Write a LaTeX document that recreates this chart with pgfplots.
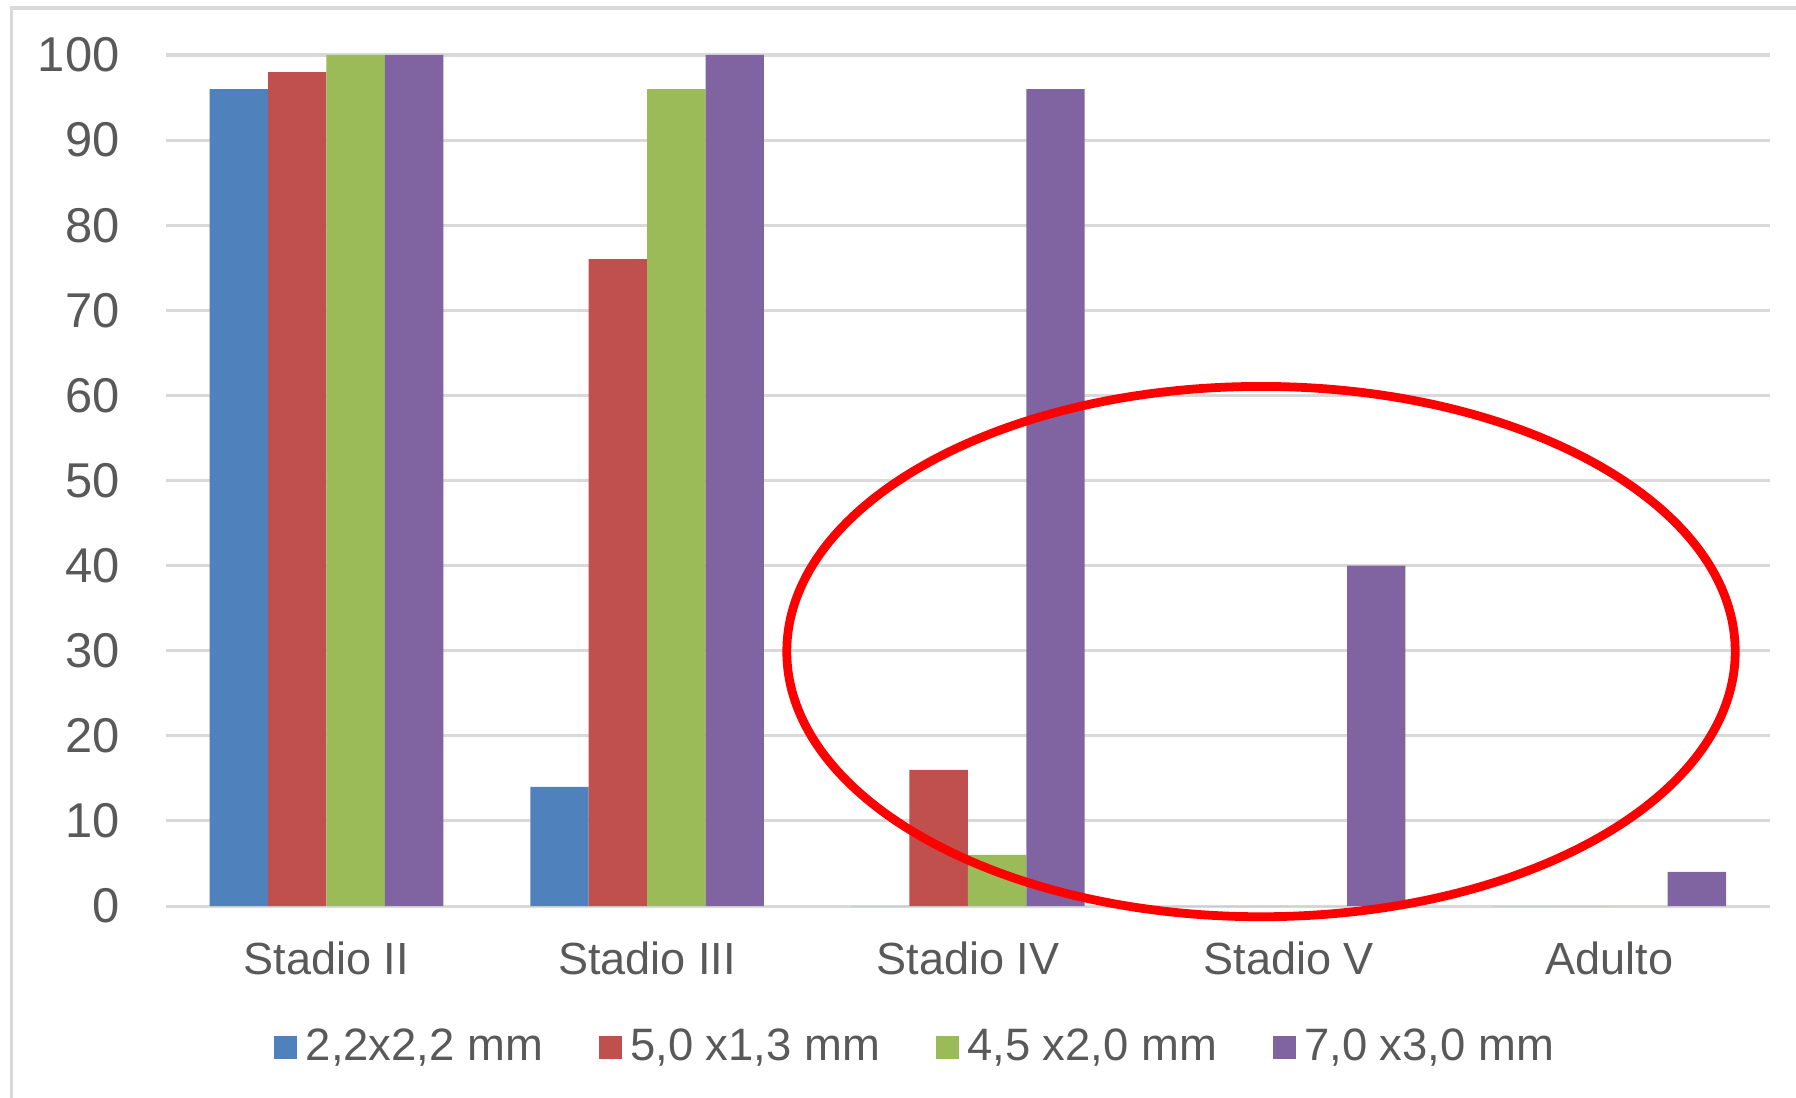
\documentclass[border=0pt]{standalone}
\usepackage{fontspec}
\setmainfont{Liberation Sans}
\usepackage{pgfplots}
\pgfplotsset{compat=1.18}
\definecolor{c1}{HTML}{4F81BD}
\definecolor{c2}{HTML}{C0504D}
\definecolor{c3}{HTML}{9BBB59}
\definecolor{c4}{HTML}{8064A2}
\definecolor{gridgray}{HTML}{D9D9D9}
\definecolor{labelgray}{HTML}{595959}
\begin{document}
\begin{tikzpicture}
\path[use as bounding box] (-43.5pt,-50.1pt) rectangle (426.9pt,237.3pt);
\draw[color=gridgray, line width=0.8pt] (-40.5pt,-60pt) -- (-40.5pt,235.2pt) -- (440pt,235.2pt);
\begin{axis}[
  at={(0pt,0pt)}, anchor=south west,
  scale only axis, width=420pt, height=222.9pt,
  xmin=-0.5, xmax=4.5, ymin=0, ymax=100,
  ybar=0pt, bar width=15.3pt,
  xtick={0,1,2,3,4}, xticklabels={Stadio II,Stadio III,Stadio IV,Stadio V,Adulto},
  ytick={0,10,...,100},
  ymajorgrids, grid style={color=gridgray, line width=0.8pt},
  axis line style={draw=none},
  major tick length=0pt,
  tick label style={text=labelgray},
  yticklabel style={font=\fontsize{12.8}{14}\selectfont, anchor=east, inner sep=0pt, xshift=-12pt},
  xticklabel style={font=\fontsize{11.8}{13}\selectfont, anchor=base, inner sep=0pt, yshift=-18pt},
  /pgf/number format/assume math mode=true,
  clip=false,
  legend style={draw=none, fill=none, legend columns=4, at={(0.469,-0.166)}, anchor=center,
    font=\fontsize{11.9}{13}\selectfont, text=labelgray,
    /tikz/every odd column/.append style={column sep=0.2pt},
    /tikz/every even column/.append style={column sep=12.6pt},
    legend cell align=left},
  legend image code/.code={\fill[#1] (0pt,-3pt) rectangle (6pt,3pt);},
]
\addplot[fill=c1, draw=none] coordinates {(0,96) (1,14) (2,0) (3,0) (4,0)};
\addplot[fill=c2, draw=none] coordinates {(0,98) (1,76) (2,16) (3,0) (4,0)};
\addplot[fill=c3, draw=none] coordinates {(0,100) (1,96) (2,6) (3,0) (4,0)};
\addplot[fill=c4, draw=none] coordinates {(0,100) (1,100) (2,96) (3,40) (4,4)};
\legend{2{,}2x2{,}2 mm,5{,}0 x1{,}3 mm,4{,}5 x2{,}0 mm,7{,}0 x3{,}0 mm}
\draw[red, line width=2.3pt] (axis cs:2.914,29.9) ellipse [x radius=124.2pt, y radius=69.45pt];
\end{axis}
\end{tikzpicture}
\end{document}
